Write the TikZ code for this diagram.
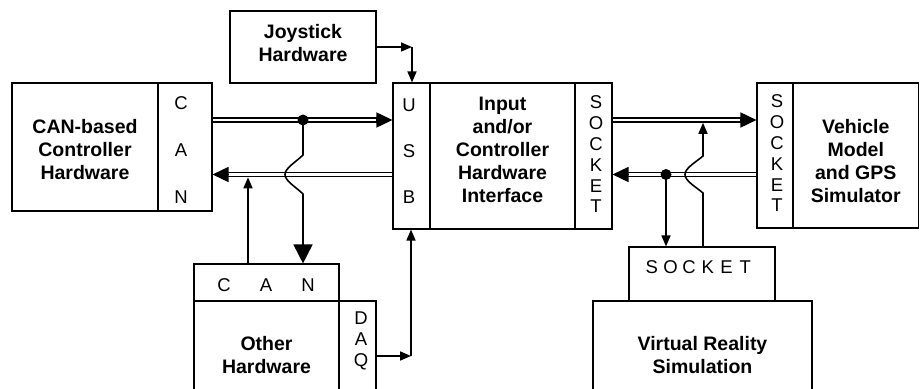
\documentclass[tikz,border=0pt]{standalone}
\usepackage{fontspec}
\setmainfont{Liberation Sans}
\usetikzlibrary{arrows.meta,calc}
\tikzset{
  box/.style={draw, line width=1.1pt, rectangle, inner sep=0pt},
  title/.style={font=\bfseries\fontsize{19.5}{23}\selectfont, align=center, inner sep=0pt},
  port/.style={font=\fontsize{18.5}{#1}\selectfont, align=center, inner sep=0pt},
  conn/.style={line width=1.6pt},
  smalltip/.style={-{Triangle[length=11pt,width=9pt]}},
  bigtip/.style={-{Triangle[length=16pt,width=15pt]}},
  hugetip/.style={-{Triangle[length=19pt,width=19pt]}},
  dbl/.style={double, double distance=2.2pt, line width=1.7pt},
  dot/.style={circle, fill, inner sep=0pt, minimum size=11pt},
}
\begin{document}
\begin{tikzpicture}[x=1pt, y=-1pt]
\clip (0,0) rectangle (920,388);
\fill[white] (0,0) rectangle (920,388);

% boxes
\node[box, minimum width=146pt, minimum height=128pt] (canB) at (85,147) {};
\node[box, minimum width=54pt,  minimum height=128pt] (canP) at (185,147) {};
\node[box, minimum width=146pt, minimum height=72pt]  (joy)  at (303,47) {};
\node[box, minimum width=37pt,  minimum height=146pt] (usb)  at (411.5,156) {};
\node[box, minimum width=145pt, minimum height=146pt] (inp)  at (502.5,156) {};
\node[box, minimum width=37pt,  minimum height=146pt] (sockA) at (593.5,156) {};
\node[box, minimum width=36pt,  minimum height=145pt] (sockB) at (775,155.5) {};
\node[box, minimum width=125.5pt, minimum height=145pt] (veh) at (855.75,155.5) {};
\node[box, minimum width=145pt, minimum height=37pt]  (othC) at (266.5,282.5) {};
\node[box, minimum width=145pt, minimum height=108pt] (oth)  at (266.5,355) {};
\node[box, minimum width=37pt,  minimum height=108pt] (daq)  at (357.5,355) {};
\node[box, minimum width=146pt, minimum height=54pt]  (sockC) at (702,274) {};
\node[box, minimum width=219pt, minimum height=108pt] (vr)   at (702.5,355) {};

% labels
\node[title] (tCan) at (85,150) {CAN-based\\Controller\\Hardware};
\node[title] (tJoy) at (303,43) {Joystick\\Hardware};
\node[title] (tInp) at (502.5,150) {Input\\and/or\\Controller\\Hardware\\Interface};
\node[title] (tVeh) at (855.75,161) {Vehicle\\Model\\and GPS\\Simulator};
\node[title] (tOth) at (266.5,355) {Other\\Hardware};
\node[title] (tVR)  at (702.5,355) {Virtual Reality\\Simulation};

\node[port=47] (lCan) at (181,150) {C\\A\\N};
\node[port=46] (lUsb) at (409,151) {U\\S\\B};
\node[port=20.8] (lSockA) at (596,154.5) {S\\O\\C\\K\\E\\T};
\node[port=20.8] (lSockB) at (777,153.5) {S\\O\\C\\K\\E\\T};
\node[port=21] (lDaq) at (361,341) {D\\A\\Q};
\node[port=20] (lCanH) at (266,285) {\makebox[42pt]{C}\makebox[42pt]{A}\makebox[42pt]{N}};
\node[port=20] (lSockC) at (698.5,267) {\makebox[18.7pt]{S}\makebox[18.7pt]{O}\makebox[18.7pt]{C}\makebox[18.7pt]{K}\makebox[18.7pt]{E}\makebox[18.7pt]{T}};

% bus levels and bend points
\coordinate (hi) at (0,120);
\coordinate (lo) at (0,174.5);
\coordinate (u1) at (248,0);
\coordinate (u2) at (703,0);
\coordinate (jc) at (412,47);
\coordinate (dc) at (411,356);

% double buses
\draw[dbl, shorten >=14pt] (canP.east |- hi) -- (usb.west |- hi);
\draw[conn, bigtip] ($(usb.west |- hi)+(-16,0)$) -- (usb.west |- hi);
\draw[dbl, shorten >=14pt] (usb.west |- lo) -- (canP.east |- lo);
\draw[conn, bigtip] ($(canP.east |- lo)+(16,0)$) -- (canP.east |- lo);
\draw[dbl, shorten >=14pt] (sockA.east |- hi) -- (sockB.west |- hi);
\draw[conn, bigtip] ($(sockB.west |- hi)+(-16,0)$) -- (sockB.west |- hi);
\draw[dbl, shorten >=14pt] (sockB.west |- lo) -- (sockA.east |- lo);
\draw[conn, bigtip] ($(sockA.east |- lo)+(16,0)$) -- (sockA.east |- lo);

% junctions
\node[dot] (j1) at (303,120) {};
\node[dot] (j2) at (666,174.5) {};

% CAN taps
\draw[conn, hugetip] (j1.center) -- (303,155)
  .. controls (296,162) and (285,168) .. (285,174.5)
  .. controls (285,181) and (296,187) .. (303,194)
  -- (othC.north -| j1);
\draw[conn, smalltip, shorten >=2.8pt] (othC.north -| u1) -- (u1 |- lo);

% socket taps
\draw[conn, smalltip] (j2.center) -- (sockC.north -| j2);
\draw[conn, smalltip, shorten >=2.8pt] (sockC.north -| u2) -- (703,193)
  .. controls (696,187) and (685,181) .. (685,174.5)
  .. controls (685,168) and (696,162) .. (703,156)
  -- (u2 |- hi);

% USB inputs
\draw[conn, smalltip] (joy.east) -- (jc);
\draw[conn, smalltip] (jc) -- (usb.north -| jc);
\draw[conn, smalltip] (daq.east |- dc) -- (dc);
\draw[conn, smalltip] (dc) -- (usb.south -| dc);
\end{tikzpicture}
\end{document}
